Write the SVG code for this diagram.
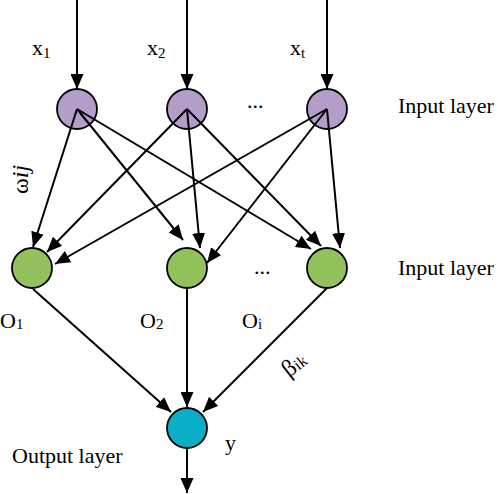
<svg xmlns="http://www.w3.org/2000/svg" width="498" height="494" viewBox="0 0 498 494">
<style>
.in{fill:#b49dc8;stroke:#000;stroke-width:1.8}
.hid{fill:#93c15b;stroke:#000;stroke-width:1.8}
.out{fill:#09afc6;stroke:#000;stroke-width:1.8}
.c line{stroke:#000;stroke-width:2;marker-end:url(#ah)}
text{font-family:"Liberation Serif","Times New Roman",serif;font-size:22px;fill:#000}
.sub{font-size:15px}
</style>
<defs>
<marker id="ah" markerUnits="userSpaceOnUse" markerWidth="15" markerHeight="13" refX="15" refY="6.5" orient="auto">
<path d="M0,0 L15,6.5 L0,13 z" fill="#000"/>
</marker>
</defs>
<g id="input1"><circle class="in" cx="77" cy="109" r="20"/></g>
<g id="input2"><circle class="in" cx="187" cy="109" r="20"/></g>
<g id="input3"><circle class="in" cx="327" cy="109" r="20"/></g>
<g id="hidden1"><circle class="hid" cx="32" cy="268" r="20"/></g>
<g id="hidden2"><circle class="hid" cx="187" cy="268" r="20"/></g>
<g id="hidden3"><circle class="hid" cx="327" cy="268" r="20"/></g>
<g id="output"><circle class="out" cx="187" cy="428" r="20"/></g>
<g id="connectors" class="c">
<line x1="77" y1="0" x2="77" y2="89"/>
<line x1="187" y1="0" x2="187" y2="89"/>
<line x1="327" y1="0" x2="327" y2="89"/>
<line x1="77" y1="109" x2="33" y2="247"/>
<line x1="187" y1="109" x2="47" y2="252"/>
<line x1="327" y1="109" x2="55" y2="264"/>
<line x1="77" y1="109" x2="183" y2="240"/>
<line x1="187" y1="109" x2="200" y2="248"/>
<line x1="327" y1="109" x2="207" y2="263"/>
<line x1="77" y1="109" x2="311" y2="249"/>
<line x1="187" y1="109" x2="321" y2="246"/>
<line x1="327" y1="109" x2="340" y2="248"/>
<line x1="33" y1="289" x2="171" y2="412"/>
<line x1="187" y1="288" x2="187" y2="407"/>
<line x1="327" y1="288" x2="203" y2="412"/>
<line x1="187" y1="448" x2="187" y2="493"/>
</g>
<g id="labels">
<text x="32" y="55">x<tspan class="sub" dy="3">1</tspan></text>
<text x="147" y="55">x<tspan class="sub" dy="3">2</tspan></text>
<text x="290" y="55">x<tspan class="sub" dy="3">t</tspan></text>
<text x="247" y="108">...</text>
<text x="398" y="113">Input layer</text>
<text x="254" y="274">...</text>
<text x="398" y="275">Input layer</text>
<text x="0" y="328">O<tspan class="sub" dy="1">1</tspan></text>
<text x="140" y="328">O<tspan class="sub" dy="1">2</tspan></text>
<text x="242" y="328">O<tspan class="sub" dy="1">i</tspan></text>
<text x="12" y="463">Output layer</text>
<text x="225" y="450">y</text>
<text transform="translate(28,194) rotate(-90)" style="font-size:24px">ω<tspan font-style="italic">ij</tspan></text>
<text transform="translate(289,378) rotate(-38)" style="font-size:24px">β<tspan style="font-size:16px">ik</tspan></text>
</g>
</svg>
